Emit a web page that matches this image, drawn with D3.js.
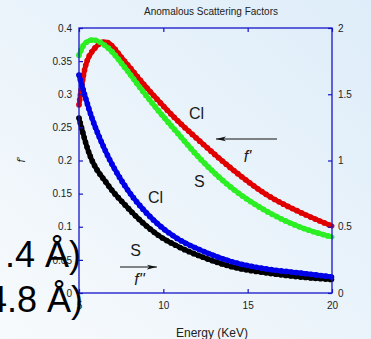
<!DOCTYPE html>
<html lang="en">
<head>
    <meta charset="UTF-8">
    <title>Anomalous Scattering Factors</title>
    <style>
        body { margin: 0; }
        svg { display: block; }
        .tick text { font-family: "Liberation Sans", Arial, sans-serif; font-size: 10px; fill: #222; }
        .note { font-family: "Liberation Sans", Arial, sans-serif; font-size: 16px; fill: #1a1a1a; }
        .big { font-family: "Liberation Sans", Arial, sans-serif; font-size: 36px; fill: #000; }
    </style>
    <script src="https://cdn.jsdelivr.net/npm/d3@7"></script>
</head>
<body>
<svg width="371" height="339"></svg>
<script>

    // values (left axis units)
    const clF1E = [5.0, 5.36, 5.95, 6.54, 7.73, 8.74, 9.68, 10.69, 12.17, 14.13, 16.15, 18.10, 20.0];
    const clF1  = [0.284, 0.340, 0.370, 0.379, 0.349, 0.318, 0.291, 0.264, 0.229, 0.186, 0.148, 0.122, 0.101];

    const sF1E = [5.0, 5.36, 5.83, 6.72, 7.73, 8.74, 9.68, 10.69, 12.17, 14.13, 16.15, 18.10, 20.0];
    const sF1  = [0.359, 0.377, 0.382, 0.370, 0.340, 0.306, 0.276, 0.246, 0.203, 0.157, 0.123, 0.0996, 0.0845];

    const clF2E = [5.0, 5.77, 6.54, 7.73, 8.74, 9.68, 10.69, 12.47, 14.13, 16.15, 18.10, 20.0];
    const clF2  = [0.329, 0.264, 0.216, 0.1615, 0.128, 0.104, 0.0845, 0.0619, 0.0468, 0.0362, 0.0302, 0.0242];

    const sF2E = [5.0, 5.53, 6.72, 7.73, 8.74, 9.68, 10.69, 12.47, 14.13, 16.15, 18.10, 20.0];
    const sF2  = [0.264, 0.216, 0.163, 0.133, 0.107, 0.0875, 0.0725, 0.0528, 0.0392, 0.0302, 0.0242, 0.0204];

    const xTicks = [5, 10, 15, 20];
    const leftTicks = [0, 0.05, 0.1, 0.15, 0.2, 0.25, 0.3, 0.35, 0.4];
    const leftTickLabels = ["0", "0.05", "0.1", "0.15", "0.2", "0.25", "0.3", "0.35", "0.4"];
    const rightTicks = [0, 0.5, 1, 1.5, 2];
    const rightTickLabels = ["0", "0.5", "1", "1.5", "2"];

    const series = [
        {e: clF1E, v: clF1, c: "#e00000"},
        {e: sF1E, v: sF1, c: "#2bef22"},
        {e: sF2E, v: sF2, c: "#000000"},
        {e: clF2E, v: clF2, c: "#0000e8"}
    ];

    const svg = d3.select("svg");

    // slide background
    const defs = svg.append("defs");
    const grad = defs.append("linearGradient").attr("id", "bg")
        .attr("x1", 0).attr("y1", 1).attr("x2", 1).attr("y2", 0);
    grad.append("stop").attr("offset", 0).attr("stop-color", "#f7fafc");
    grad.append("stop").attr("offset", 1).attr("stop-color", "#deedf9");
    defs.append("marker").attr("id", "arr").attr("viewBox", "0 0 10 6")
        .attr("refX", 10).attr("refY", 3).attr("markerWidth", 10).attr("markerHeight", 6)
        .attr("markerUnits", "userSpaceOnUse").attr("orient", "auto")
        .append("path").attr("d", "M0,0.6L10,3L0,5.4L2.5,3Z").attr("fill", "#111");

    svg.append("rect").attr("width", 371).attr("height", 339).attr("fill", "url(#bg)");

    const x = d3.scaleLinear().domain([5, 20]).range([79, 332]);
    const y = d3.scaleLinear().domain([0, 0.4]).range([293, 28]);
    const y2 = d3.scaleLinear().domain([0, 2]).range([293, 28]);

    // curves: solid core plus a row of round markers on top
    const line = d3.line().curve(d3.curveMonotoneX)
        .x(function (d) { return x(d[0]); })
        .y(function (d) { return y(d[1]); });

    const g = svg.append("g").attr("fill", "none").attr("stroke-linecap", "round").attr("stroke-linejoin", "round");
    series.forEach(function (s) {
        const pts = d3.zip(s.e, s.v);
        g.append("path").attr("d", line(pts)).attr("stroke", s.c).attr("stroke-width", 4.8);
        g.append("path").attr("d", line(pts)).attr("stroke", s.c).attr("stroke-width", 5.7)
            .attr("stroke-dasharray", "0 5");
    });

    // axes
    const blue = "#1414c8";
    function styleAxis(a) {
        a.select(".domain").remove();
        a.selectAll(".tick line").attr("stroke", blue).attr("stroke-width", 1.2);
    }
    svg.append("g").attr("transform", "translate(79,0)")
        .call(d3.axisLeft(y).tickValues(leftTicks).tickFormat(function (d, i) { return leftTickLabels[i]; })
            .tickSizeInner(-4).tickSizeOuter(0).tickPadding(7))
        .call(styleAxis);
    svg.append("g").attr("transform", "translate(332,0)")
        .call(d3.axisRight(y2).tickValues(rightTicks).tickFormat(function (d, i) { return rightTickLabels[i]; })
            .tickSizeInner(-4).tickSizeOuter(0).tickPadding(6))
        .call(styleAxis);
    svg.append("g").attr("transform", "translate(0,293)")
        .call(d3.axisBottom(x).tickValues(xTicks).tickSizeInner(-4).tickSizeOuter(0).tickPadding(9))
        .call(styleAxis);
    svg.append("g").attr("transform", "translate(0,28)")
        .call(d3.axisTop(x).tickValues(xTicks).tickFormat("").tickSizeInner(-4).tickSizeOuter(0))
        .call(styleAxis);
    svg.selectAll(".tick text").attr("font-family", null).attr("font-size", null);

    svg.append("rect").attr("x", 79).attr("y", 28).attr("width", 253).attr("height", 265)
        .attr("fill", "none").attr("stroke", blue).attr("stroke-width", 1.3);

    // titles
    svg.append("text").attr("x", 211).attr("y", 15).attr("text-anchor", "middle")
        .attr("font-family", "Liberation Sans, Arial, sans-serif").attr("font-size", 10).attr("fill", "#222")
        .text("Anomalous Scattering Factors");
    svg.append("text").attr("x", 212).attr("y", 337).attr("text-anchor", "middle")
        .attr("font-family", "Liberation Sans, Arial, sans-serif").attr("font-size", 12).attr("fill", "#222")
        .text("Energy (KeV)");
    svg.append("text").attr("transform", "translate(25,160)rotate(-90)").attr("text-anchor", "middle")
        .attr("font-family", "Liberation Sans, Arial, sans-serif").attr("font-size", 10)
        .attr("font-style", "italic").attr("fill", "#222").text("f'");

    // annotations
    const notes = [
        {t: "Cl", e: 11.97, v: 0.2626, it: false},
        {t: "f'", e: 14.99, v: 0.1977, it: true},
        {t: "S", e: 12.14, v: 0.160, it: false},
        {t: "Cl", e: 9.54, v: 0.1358, it: false},
        {t: "S", e: 8.35, v: 0.0558, it: false},
        {t: "f''", e: 8.59, v: 0.0121, it: true}
    ];
    svg.selectAll(".note").data(notes).enter().append("text").attr("class", "note")
        .attr("x", function (d) { return x(d.e); })
        .attr("y", function (d) { return y(d.v); })
        .attr("text-anchor", "middle")
        .attr("font-style", function (d) { return d.it ? "italic" : "normal"; })
        .text(function (d) { return d.t; });

    svg.append("line").attr("x1", x(16.74)).attr("x2", x(13.12)).attr("y1", y(0.2325)).attr("y2", y(0.2325))
        .attr("stroke", "#111").attr("stroke-width", 1.1).attr("marker-end", "url(#arr)");
    svg.append("line").attr("x1", x(7.43)).attr("x2", x(9.62)).attr("y1", y(0.0392)).attr("y2", y(0.0392))
        .attr("stroke", "#111").attr("stroke-width", 1.1).attr("marker-end", "url(#arr)");

    // slide text lying over the chart
    svg.append("text").attr("class", "big").attr("x", 81).attr("y", 267).attr("text-anchor", "end").text(".4 Å)");
    svg.append("text").attr("class", "big").attr("x", 83).attr("y", 312).attr("text-anchor", "end").text("4.8 Å)");

</script>
</body>
</html>
